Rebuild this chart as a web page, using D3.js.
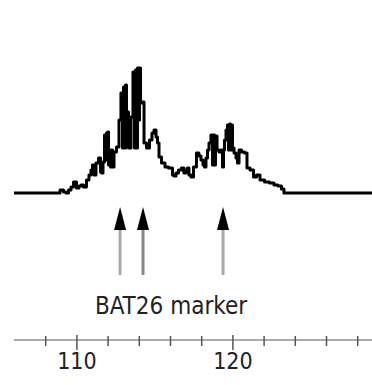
<!DOCTYPE html>
<html>
<head>
<meta charset="utf-8">
<script src="https://cdnjs.cloudflare.com/ajax/libs/d3/7.8.5/d3.min.js"></script>
<style>
  body { margin: 0; background: #fff; }
  svg { display: block; }
</style>
</head>
<body>
<div id="chart"></div>
<script>
// fragment size (bp) and signal
var sizeBp = [106.00, 108.82, 109.08, 109.27, 109.40, 109.59, 109.72, 109.91, 110.10, 110.23,
  110.36, 110.55, 110.74, 110.87, 111.00, 111.06, 111.19, 111.32, 111.51, 111.58,
  111.64, 111.77, 111.83, 111.90, 111.96, 112.03, 112.09, 112.15, 112.22, 112.28,
  112.35, 112.47, 112.67, 112.79, 112.92, 112.99, 113.05, 113.12, 113.18, 113.24,
  113.31, 113.37, 113.44, 113.56, 113.69, 113.76, 113.82, 113.88, 113.95, 114.01,
  114.08, 114.14, 114.27, 114.40, 114.59, 114.78, 114.91, 115.04, 115.17, 115.23,
  115.36, 115.55, 115.81, 116.00, 116.13, 116.19, 116.32, 116.45, 116.64, 116.83,
  116.96, 117.09, 117.15, 117.28, 117.41, 117.60, 117.79, 117.92, 118.05, 118.18,
  118.24, 118.37, 118.44, 118.56, 118.69, 118.76, 118.82, 118.88, 118.95, 119.08,
  119.21, 119.33, 119.40, 119.46, 119.53, 119.65, 119.72, 119.78, 119.85, 119.91,
  119.97, 120.04, 120.17, 120.29, 120.36, 120.49, 120.68, 120.87, 121.00, 121.26,
  121.45, 121.64, 121.90, 122.22, 122.54, 122.79, 123.05, 123.24, 123.37, 128.95];

var signal = [0, 0, 3, 1, 0, 3, 6, 11, 5, 7,
  8, 6, 13, 18, 23, 28, 18, 30, 35, 21,
  20, 31, 58, 33, 60, 61, 28, 43, 26, 43,
  26, 41, 46, 73, 100, 45, 106, 45, 108, 80,
  81, 45, 45, 76, 121, 45, 123, 45, 125, 73,
  125, 90, 91, 50, 45, 53, 60, 63, 56, 50,
  36, 30, 26, 25, 25, 18, 17, 20, 23, 25,
  20, 23, 25, 18, 16, 26, 40, 37, 33, 28,
  26, 35, 43, 50, 58, 28, 58, 28, 57, 43,
  41, 43, 26, 43, 53, 63, 68, 43, 69, 43,
  68, 45, 40, 35, 30, 43, 41, 40, 25, 23,
  16, 18, 13, 11, 10, 8, 7, 4, 0, 0];

// BAT26 allele positions marked with arrows
var markerBp = [112.8, 114.27, 119.4];
var markerShade = ["#aaa", "#888", "#aaa"];

var tickBp = [108, 110, 112, 114, 116, 118, 120, 122, 124, 126, 128];
var labelBp = [110, 120];
var markerLabel = "BAT26 marker";

var width = 372, height = 385;

var x = d3.scaleLinear().domain([106, 129]).range([14, 372.8]);
var y = d3.scaleLinear().domain([0, 150]).range([193, 43]);

var svg = d3.select("#chart").append("svg")
  .attr("width", width)
  .attr("height", height);

var pts = sizeBp.map(function(d, i) { return [d, signal[i]]; });

// stepped trace, like the sampled electropherogram
var line = d3.line()
  .curve(d3.curveStep)
  .x(function(d) { return x(d[0]); })
  .y(function(d) { return y(d[1]); });

svg.append("path")
  .datum(pts)
  .attr("d", line)
  .style("fill", "none")
  .style("stroke", "#000")
  .style("stroke-width", 3)
  .style("stroke-linejoin", "round");

// arrows
var arrows = svg.selectAll("g.arrow")
  .data(markerBp)
  .enter().append("g")
  .attr("class", "arrow")
  .attr("transform", function(d) { return "translate(" + x(d) + ",0)"; });

arrows.append("line")
  .attr("x1", 0).attr("x2", 0)
  .attr("y1", 226).attr("y2", 275)
  .style("stroke", function(d, i) { return markerShade[i]; })
  .style("stroke-width", 3);

arrows.append("path")
  .attr("d", "M0,207 L6,230 L-6,230 Z")
  .style("fill", "#000");

svg.append("text")
  .attr("x", 171)
  .attr("y", 314)
  .attr("text-anchor", "middle")
  .style("font-family", "'DejaVu Sans Condensed', 'DejaVu Sans', sans-serif")
  .style("font-size", "24px")
  .style("fill", "#222")
  .text(markerLabel);

// size axis
var axis = d3.axisBottom(x)
  .tickValues(tickBp)
  .tickSize(0)
  .tickFormat(function(d) { return labelBp.indexOf(d) >= 0 ? d : ""; });

var gx = svg.append("g")
  .attr("transform", "translate(0,340)")
  .call(axis);

gx.select(".domain")
  .attr("d", "M14,0H372")
  .style("stroke", "#aaa")
  .style("stroke-width", 2);

gx.selectAll(".tick line")
  .attr("y1", function(d) { return labelBp.indexOf(d) >= 0 ? -5 : -4; })
  .attr("y2", function(d) { return labelBp.indexOf(d) >= 0 ? 10 : 6; })
  .style("stroke", "#555")
  .style("stroke-width", 1.5);

gx.selectAll(".tick text")
  .attr("y", 29)
  .attr("dy", 0)
  .style("font-family", "'DejaVu Sans Condensed', 'DejaVu Sans', sans-serif")
  .style("font-size", "23px")
  .style("fill", "#222");
</script>
</body>
</html>
